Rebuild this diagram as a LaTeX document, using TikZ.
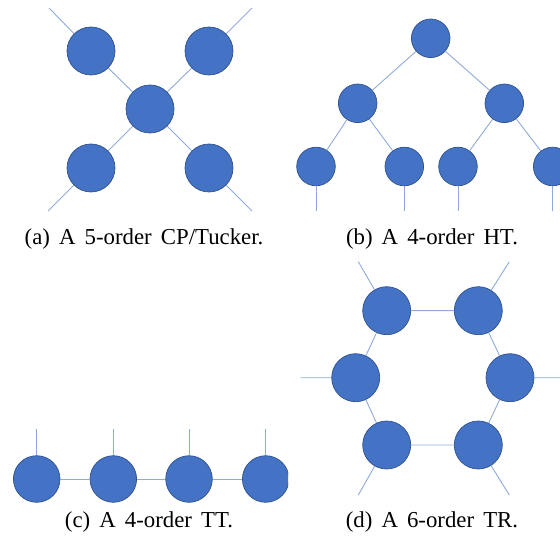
\documentclass[tikz,border=0pt]{standalone}
\usepackage{fontspec}
\setmainfont{Liberation Serif}
\definecolor{nodefill}{HTML}{4472C4}
\definecolor{nodeedge}{HTML}{2F528F}
\definecolor{edgecol}{HTML}{8FAADC}
\begin{document}
\begin{tikzpicture}[x=1pt,y=-1pt,
  tn/.style={circle,fill=nodefill,draw=nodeedge,line width=0.7pt,inner sep=0pt,minimum size=#1},
  tn/.default=48pt,
  bond/.style={draw=edgecol,line width=0.9pt},
  captext/.style={anchor=base,inner sep=0pt,font=\fontsize{22.8}{27}\selectfont}]
\useasboundingbox (0,0) rectangle (560,540);
% ---------- (a) CP/Tucker ----------
\coordinate (a1o) at (49,8);
\coordinate (a2o) at (252,8);
\coordinate (a3o) at (48,211);
\coordinate (a4o) at (252,211);
\node[tn] (ac) at (150,109) {};
\node[tn] (a1) at (91,51) {};
\node[tn] (a2) at (209,51) {};
\node[tn] (a3) at (91,168) {};
\node[tn] (a4) at (209,168) {};
\draw[bond] (a1o) -- (a1) (a2o) -- (a2) (a3o) -- (a3) (a4o) -- (a4);
\draw[bond] (ac) -- (a1) (ac) -- (a2) (ac) -- (a3) (ac) -- (a4);
\node[captext] (capa) at (144,245) {(a)\hspace{0.4em}A\hspace{0.4em}5-order\hspace{0.4em}CP/Tucker.};
% ---------- (b) HT ----------
\node[tn=38.6pt] (br) at (430.7,38.3) {};
\node[tn=38.6pt] (bl) at (357.7,103.3) {};
\node[tn=38.6pt] (bR) at (504.3,103.3) {};
\node[tn=38.6pt] (b1) at (316,166.5) {};
\node[tn=38.6pt] (b2) at (404.3,166.5) {};
\node[tn=38.6pt] (b3) at (458,166.5) {};
\node[tn=38.6pt] (b4) at (552.7,166.5) {};
\coordinate (b1o) at (316,211);
\coordinate (b2o) at (404.3,211);
\coordinate (b3o) at (458,211);
\coordinate (b4o) at (552.7,211);
\draw[bond] (br) -- (bl) (br) -- (bR) (bl) -- (b1) (bl) -- (b2) (bR) -- (b3) (bR) -- (b4);
\draw[bond] (b1) -- (b1o) (b2) -- (b2o) (b3) -- (b3o) (b4) -- (b4o);
\node[captext] (capb) at (432,245) {(b)\hspace{0.4em}A\hspace{0.4em}4-order\hspace{0.4em}HT.};
% ---------- (c) TT ----------
\begin{scope}
\clip (0,250) rectangle (288,510);
\node[tn=46.6pt] (c1) at (36.7,479) {};
\node[tn=46.6pt] (c2) at (113.3,479) {};
\node[tn=46.6pt] (c3) at (189,479) {};
\node[tn=46.6pt] (c4) at (265.7,479) {};
\coordinate (c1o) at (36.7,429.3);
\coordinate (c2o) at (113.3,429.3);
\coordinate (c3o) at (189,429.3);
\coordinate (c4o) at (265.7,429.3);
\draw[bond] (c1) -- (c2) (c2) -- (c3) (c3) -- (c4);
\draw[bond] (c1) -- (c1o) (c2) -- (c2o) (c3) -- (c3o) (c4) -- (c4o);
\end{scope}
\node[captext] (capc) at (149,527) {(c)\hspace{0.4em}A\hspace{0.4em}4-order\hspace{0.4em}TT.};
% ---------- (d) TR ----------
\node[tn] (d1) at (386.7,310.7) {};
\node[tn] (d2) at (478.3,310.7) {};
\node[tn] (d3) at (510,377.7) {};
\node[tn] (d4) at (478.3,445) {};
\node[tn] (d5) at (386.7,445) {};
\node[tn] (d6) at (355.7,377.7) {};
\coordinate (d1o) at (358.3,261.7);
\coordinate (d2o) at (509.3,261.7);
\coordinate (d3o) at (560,377.7);
\coordinate (d4o) at (509.3,495);
\coordinate (d5o) at (358.3,495);
\coordinate (d6o) at (300.7,377.7);
\draw[bond] (d1) -- (d2) (d2) -- (d3) (d3) -- (d4) (d4) -- (d5) (d5) -- (d6) (d6) -- (d1);
\draw[bond] (d1) -- (d1o) (d2) -- (d2o) (d3) -- (d3o) (d4) -- (d4o) (d5) -- (d5o) (d6) -- (d6o);
\node[captext] (capd) at (432,527) {(d)\hspace{0.4em}A\hspace{0.4em}6-order\hspace{0.4em}TR.};
\end{tikzpicture}
\end{document}
